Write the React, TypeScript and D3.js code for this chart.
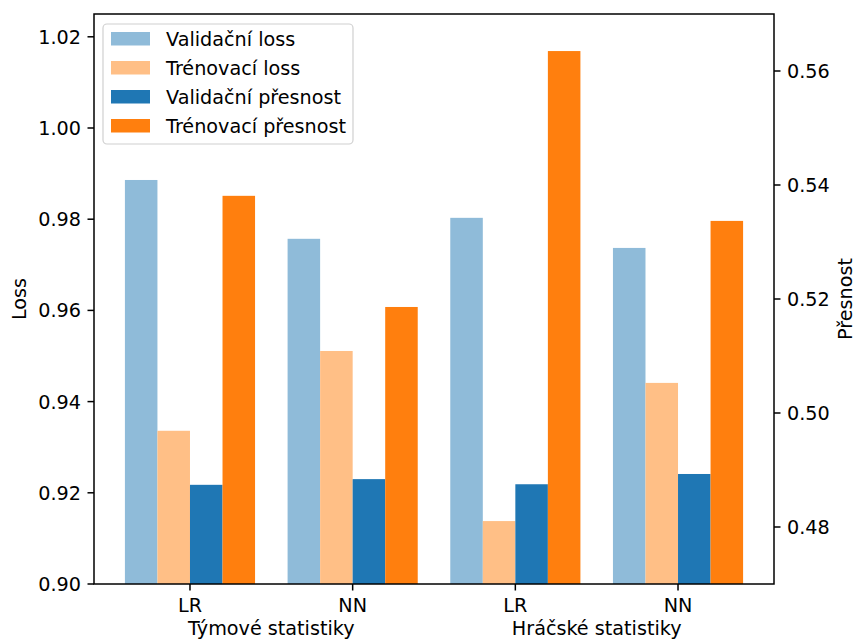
import React from "react";
import * as d3 from "d3";

const groups = ["LR", "NN", "LR", "NN"];
const sections = ["Týmové statistiky", "Hráčské statistiky"];
const valLoss = [0.9886, 0.9757, 0.9803, 0.9737];
const trainLoss = [0.9336, 0.9511, 0.9138, 0.9441];
const valAcc = [0.4874, 0.4884, 0.4875, 0.4893];
const trainAcc = [0.5381, 0.5186, 0.5635, 0.5337];
const leftTicks = [0.9, 0.92, 0.94, 0.96, 0.98, 1.0, 1.02];
const rightTicks = [0.48, 0.5, 0.52, 0.54, 0.56];
const seriesNames = ["Validační loss", "Trénovací loss", "Validační přesnost", "Trénovací přesnost"];
const seriesColors = ["#8fbbd9", "#ffbf86", "#1f77b4", "#ff7f0e"];

const W = 856, H = 639;
const L = 94, R = 774, T = 14, B = 584;
const FONT = "DejaVu Sans, sans-serif";
const FS = 19.2;

export default function App() {
  const x = d3.scaleLinear().domain([-0.59, 3.59]).range([L, R]);
  const yL = d3.scaleLinear().domain([0.9, 1.025]).range([B, T]);
  const yR = d3.scaleLinear().domain([0.47, 0.57]).range([B, T]);
  const bw = 0.2;
  const series = [
    { vals: valLoss, y: yL, off: -0.3 },
    { vals: trainLoss, y: yL, off: -0.1 },
    { vals: valAcc, y: yR, off: 0.1 },
    { vals: trainAcc, y: yR, off: 0.3 },
  ];
  const idx = d3.range(groups.length);
  return (
    <svg width={W} height={H} style={{ position: "absolute", left: 0, top: 0, background: "#fff" }} fontFamily={FONT}>
      <rect x={0} y={0} width={W} height={H} fill="#fff" />
      <defs>
        <clipPath id="plot"><rect x={L} y={T} width={R - L} height={B - T} /></clipPath>
      </defs>
      <g clipPath="url(#plot)">
        {series.map((s, si) =>
          idx.map((i) => {
            const x0 = x(i + s.off - bw / 2);
            const x1 = x(i + s.off + bw / 2);
            const yt = s.y(s.vals[i]);
            return <rect key={`${si}-${i}`} x={x0} y={yt} width={x1 - x0} height={B - yt} fill={seriesColors[si]} />;
          })
        )}
      </g>
      <rect x={L} y={T} width={R - L} height={B - T} fill="none" stroke="#000" strokeWidth={1.5} />
      {leftTicks.map((t) => (
        <g key={`l${t}`}>
          <line x1={L - 6.5} x2={L} y1={yL(t)} y2={yL(t)} stroke="#000" strokeWidth={1.5} />
          <text x={L - 13} y={yL(t)} dy="0.36em" textAnchor="end" fontSize={FS} fill="#000">{t.toFixed(2)}</text>
        </g>
      ))}
      {rightTicks.map((t) => (
        <g key={`r${t}`}>
          <line x1={R} x2={R + 6.5} y1={yR(t)} y2={yR(t)} stroke="#000" strokeWidth={1.5} />
          <text x={R + 13} y={yR(t)} dy="0.36em" textAnchor="start" fontSize={FS} fill="#000">{t.toFixed(2)}</text>
        </g>
      ))}
      {idx.map((i) => (
        <g key={`x${i}`}>
          <line x1={x(i)} x2={x(i)} y1={B} y2={B + 6.5} stroke="#000" strokeWidth={1.5} />
          <text x={x(i)} y={B + 13} dy="0.76em" textAnchor="middle" fontSize={FS} fill="#000">{groups[i]}</text>
        </g>
      ))}
      {sections.map((s, k) => (
        <text key={s} x={(x(2 * k) + x(2 * k + 1)) / 2} y={B + 44} dy="0.36em" textAnchor="middle" fontSize={FS} fill="#000">{s}</text>
      ))}
      <text transform={`translate(19,${(T + B) / 2}) rotate(-90)`} textAnchor="middle" dy="0.36em" fontSize={FS} fill="#000">Loss</text>
      <text transform={`translate(845,${(T + B) / 2}) rotate(-90)`} textAnchor="middle" dy="0.36em" fontSize={FS} fill="#000">Přesnost</text>
      <rect x={103} y={24} width={250} height={120} rx={4} fill="#fff" fillOpacity={0.8} stroke="#d0d0d0" strokeWidth={1.2} />
      {seriesNames.map((n, k) => (
        <g key={n}>
          <rect x={111} y={32 + k * 29} width={39} height={13.5} fill={seriesColors[k]} />
          <text x={166} y={39 + k * 29} dy="0.36em" fontSize={FS} fill="#000">{n}</text>
        </g>
      ))}
    </svg>
  );
}
